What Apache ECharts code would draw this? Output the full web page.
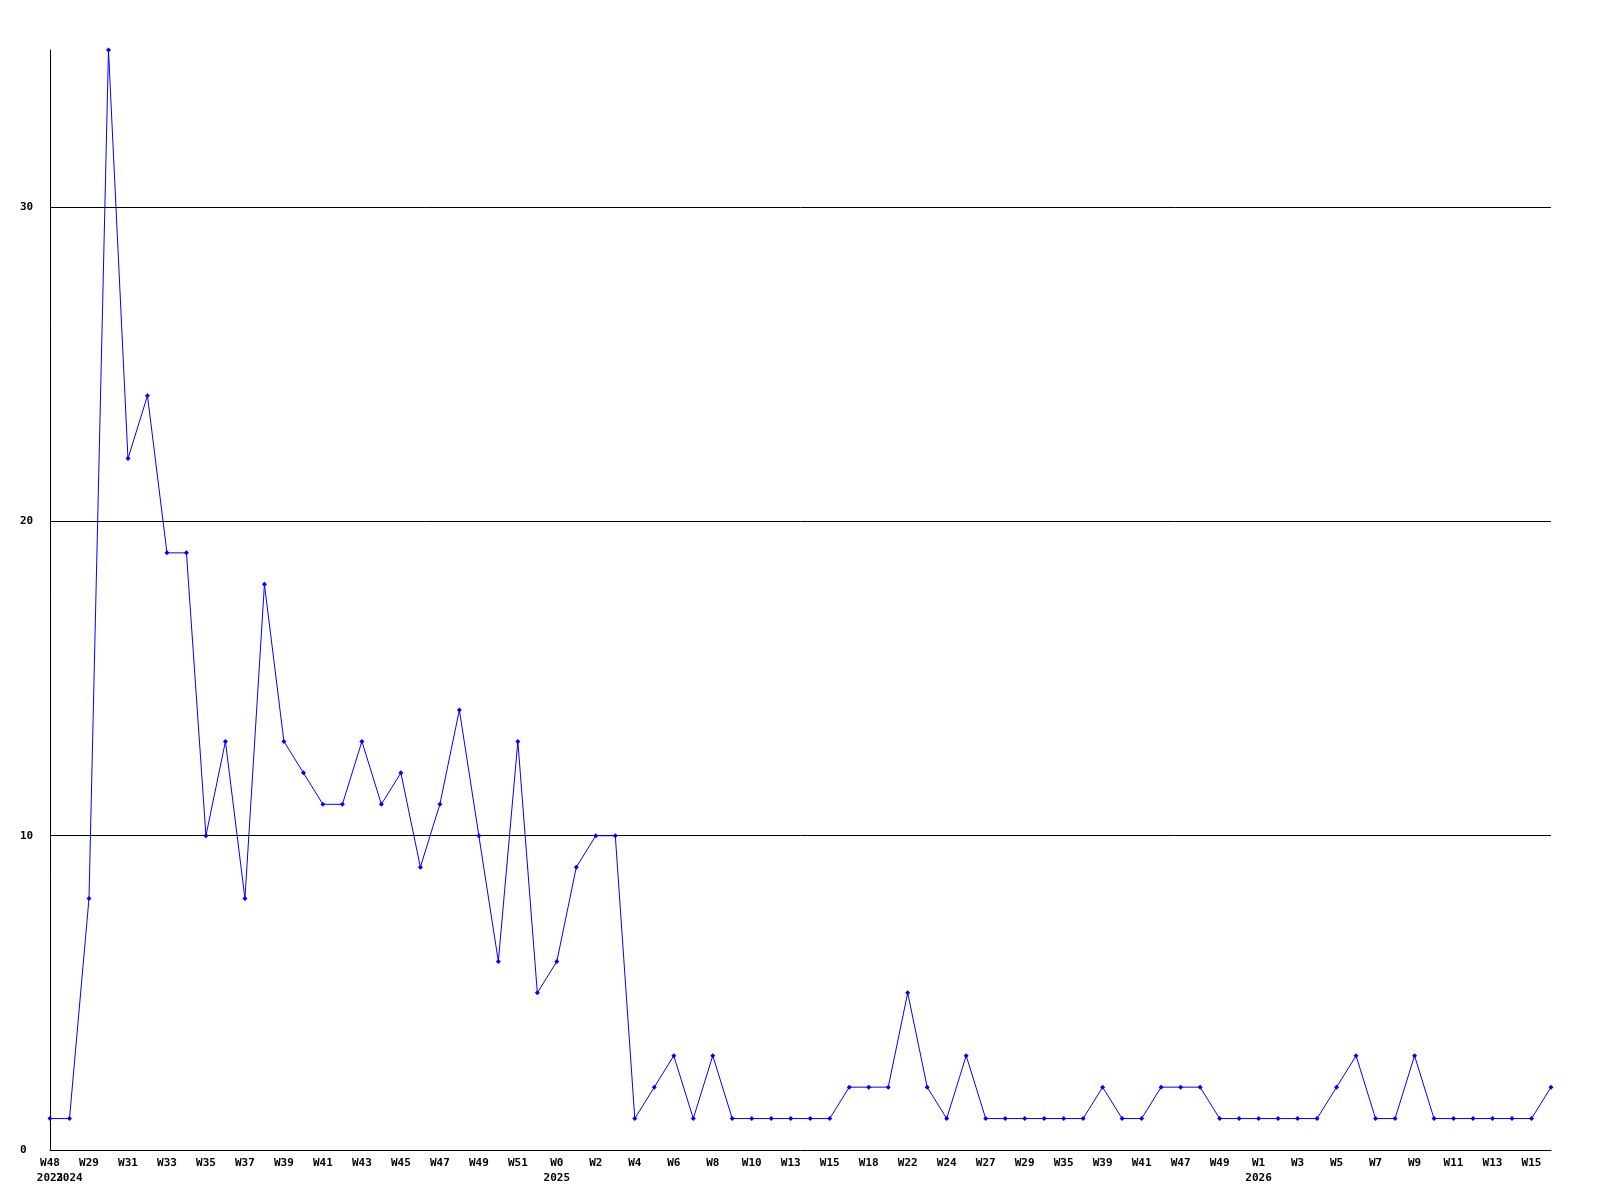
<!DOCTYPE html>
<html>
<head>
<meta charset="utf-8">
<script src="https://cdn.jsdelivr.net/npm/echarts@6/dist/echarts.min.js"></script>
<style>
html,body{margin:0;padding:0;background:#fff;}
#chart{width:1600px;height:1200px;}
</style>
</head>
<body>
<div id="chart"></div>
<script>
const weeks = ['W48','W28','W29','W30','W31','W32','W33','W34','W35','W36',
  'W37','W38','W39','W40','W41','W42','W43','W44','W45','W46',
  'W47','W48','W49','W50','W51','W52','W0','W1','W2','W3',
  'W4','W5','W6','W7','W8','W9','W10','W11','W13','W14',
  'W15','W16','W18','W20','W22','W23','W24','W26','W27','W28',
  'W29','W32','W35','W37','W39','W40','W41','W44','W47','W48',
  'W49','W51','W1','W2','W3','W4','W5','W6','W7','W8',
  'W9','W10','W11','W12','W13','W14','W15','W16'];
const yearLabels = weeks.map(() => '');
yearLabels[0] = '2023';
yearLabels[1] = '2024';
yearLabels[26] = '2025';
yearLabels[62] = '2026';
const values = [1,1,8,35,22,24,19,19,10,13,
  8,18,13,12,11,11,13,11,12,9,
  11,14,10,6,13,5,6,9,10,10,
  1,2,3,1,3,1,1,1,1,1,
  1,2,2,2,5,2,1,3,1,1,
  1,1,1,1,2,1,1,2,2,2,
  1,1,1,1,1,1,2,3,1,1,
  3,1,1,1,1,1,1,2];
const yTicks = [0, 10, 20, 30];

const font = {fontFamily: 'DejaVu Sans Mono', fontWeight: 'bold', fontSize: 11, color: '#000'};
const chart = echarts.init(document.getElementById('chart'), null, {renderer: 'canvas'});
chart.setOption({
  animation: false,
  backgroundColor: '#ffffff',
  grid: {left: 50, right: 49, top: 50, bottom: 50, containLabel: false},
  xAxis: [{
    type: 'category',
    data: weeks,
    boundaryGap: false,
    position: 'bottom',
    axisLine: {show: true, lineStyle: {color: '#000', width: 1}},
    axisTick: {show: false},
    axisLabel: Object.assign({interval: 1, margin: 8}, font),
    splitLine: {show: false}
  }, {
    type: 'category',
    data: yearLabels,
    boundaryGap: false,
    position: 'bottom',
    offset: 15,
    axisLine: {show: false},
    axisTick: {show: false},
    axisLabel: Object.assign({interval: 0, margin: 8}, font),
    splitLine: {show: false}
  }],
  yAxis: {
    type: 'value',
    min: 0,
    max: 35,
    interval: 10,
    axisLine: {show: true, lineStyle: {color: '#000', width: 1}},
    axisTick: {show: false},
    axisLabel: Object.assign({
      margin: 30,
      align: 'left',
      showMaxLabel: false,
      formatter: v => (yTicks.indexOf(v) >= 0 ? String(v) : '')
    }, font),
    splitLine: {show: true, showMinLine: false, showMaxLine: false, lineStyle: {color: '#000', width: 1}}
  },
  series: [{
    type: 'line',
    data: values,
    xAxisIndex: 0,
    symbol: 'diamond',
    symbolSize: 5,
    showSymbol: true,
    lineStyle: {color: '#0000ff', width: 1},
    itemStyle: {color: '#0000ff'},
    z: 3
  }]
});
</script>
</body>
</html>
